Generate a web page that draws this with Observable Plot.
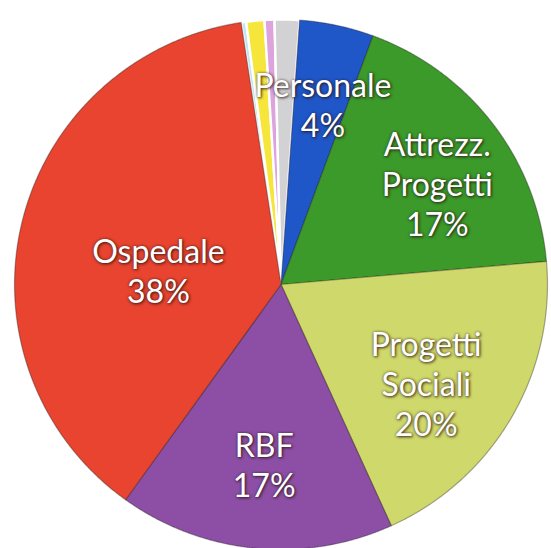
<!DOCTYPE html>
<html>
<head>
<meta charset="utf-8">
<script src="https://cdn.jsdelivr.net/npm/d3@7"></script>
<script src="https://cdn.jsdelivr.net/npm/@observablehq/plot@0.6"></script>
<style>
  html, body { margin: 0; padding: 0; background: #fff; overflow: hidden; }
  #chart svg text { text-shadow: 1px 1px 3px rgba(40,20,20,0.8), 0 0 3px rgba(40,20,20,0.55); }
</style>
</head>
<body>
<div id="chart"></div>
<script>
// Slices, clockwise from the top (just left of 12 o'clock)
const categories = ["Altro A", "Altro B", "Altro C", "Altro D", "Personale", "Attrezz.\nProgetti", "Progetti\nSociali", "RBF", "Ospedale"];
const values = [0.3, 1.1, 0.6, 1.5, 4.5, 18.0, 19.6, 16.7, 37.7];
const pctLabels = ["", "", "", "", "4%", "17%", "20%", "17%", "38%"];
const colors = ["#bfe4f2", "#f6e63c", "#dca3dc", "#d2d2d4", "#1f57c9", "#3b9a2a", "#cfd86a", "#8d4fa5", "#e8442f"];

// styling / layout
const startDeg = -8.6;
const labelRadius = {"Personale": 0.70, "Attrezz.\nProgetti": 0.70, "Progetti\nSociali": 0.66, "RBF": 0.68, "Ospedale": 0.463};
const labelAngleShift = {"Personale": 0.9, "Attrezz.\nProgetti": 4.3, "Progetti\nSociali": 4.1, "RBF": -0.3, "Ospedale": -7};
const smallSlices = new Set(["Altro A", "Altro B", "Altro C", "Altro D"]);

const total = d3.sum(values);
let acc = startDeg;
const slices = categories.map((c, i) => {
  const a0 = acc, a1 = acc + values[i] / total * 360;
  acc = a1;
  return {name: c, i, a0, a1, mid: (a0 + a1) / 2, color: colors[i], pct: pctLabels[i]};
});

const rad = d => d * Math.PI / 180;
const points = [];
for (const s of slices) {
  points.push({slice: s.i, name: s.name, x: 0, y: 0, fill: s.color});
  const n = Math.max(2, Math.ceil((s.a1 - s.a0) / 0.25));
  for (let k = 0; k <= n; k++) {
    const a = rad(s.a0 + (s.a1 - s.a0) * k / n);
    points.push({slice: s.i, name: s.name, x: Math.sin(a), y: Math.cos(a), fill: s.color});
  }
}

const labels = slices.filter(s => s.pct).map(s => {
  const r = labelRadius[s.name] ?? 0.69;
  const a = rad(s.mid + (labelAngleShift[s.name] ?? 0));
  return {x: r * Math.sin(a), y: r * Math.cos(a), text: s.name + "\n" + s.pct};
});

const chart = Plot.plot({
  width: 551,
  height: 548,
  x: {domain: [-1, 1], range: [14, 547], axis: null},
  y: {domain: [-1, 1], range: [549, 19], axis: null},
  color: {type: "identity"},
  style: {background: "#fff", overflow: "hidden"},
  marks: [
    Plot.line(points.filter(d => smallSlices.has(d.name)), {
      x: "x", y: "y", z: "slice", fill: "fill", stroke: "#ffffff", strokeWidth: 2.4, curve: "linear-closed"
    }),
    Plot.line(points.filter(d => !smallSlices.has(d.name)), {
      x: "x", y: "y", z: "slice", fill: "fill", stroke: "rgba(30,20,20,0.35)", strokeWidth: 1.2, curve: "linear-closed"
    }),
    Plot.text(labels, {
      x: "x", y: "y", text: "text", fill: "white",
      fontSize: 32, fontFamily: "Lato, 'Open Sans', sans-serif", lineHeight: 1.25,
      textAnchor: "middle"
    })
  ]
});
document.getElementById("chart").appendChild(chart);
</script>
</body>
</html>
